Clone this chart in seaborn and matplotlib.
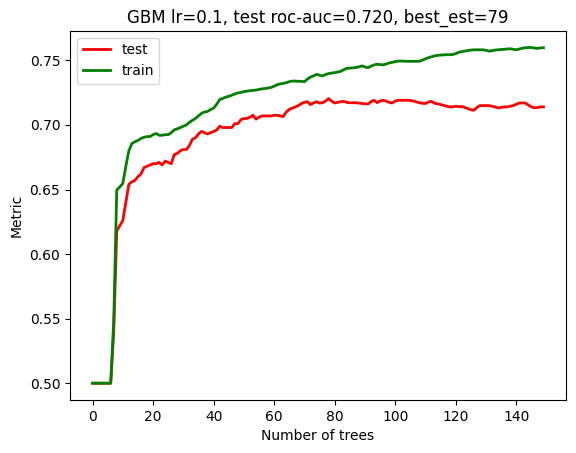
import numpy as np
import pandas as pd
import matplotlib
matplotlib.use("Agg")
import matplotlib.pyplot as plt
import seaborn as sns

title = "GBM lr=0.1, test roc-auc=0.720, best_est=79"
xlabel = "Number of trees"
ylabel = "Metric"

test_scores = [
    0.500, 0.500, 0.500, 0.500, 0.500, 0.500, 0.500, 0.540, 0.618, 0.622,
    0.626, 0.640, 0.654, 0.656, 0.657, 0.660, 0.662, 0.667, 0.668, 0.669,
    0.670, 0.670, 0.671, 0.669, 0.672, 0.671, 0.670, 0.677, 0.678, 0.680,
    0.681, 0.681, 0.684, 0.689, 0.690, 0.693, 0.695, 0.694, 0.693, 0.694,
    0.695, 0.696, 0.699, 0.698, 0.698, 0.698, 0.698, 0.701, 0.701, 0.704,
    0.705, 0.705, 0.706, 0.7075, 0.7045, 0.706, 0.707, 0.707, 0.707, 0.707,
    0.7075, 0.7075, 0.707, 0.7065, 0.710, 0.712, 0.713, 0.714, 0.715, 0.7165,
    0.7175, 0.718, 0.7158, 0.717, 0.718, 0.717, 0.7172, 0.7185, 0.7204, 0.7185,
    0.717, 0.7175, 0.718, 0.7183, 0.7175, 0.7172, 0.7172, 0.7172, 0.717, 0.7166,
    0.7164, 0.7162, 0.718, 0.7191, 0.7173, 0.7185, 0.7191, 0.7185, 0.7175, 0.717,
    0.7185, 0.7191, 0.7191, 0.7191, 0.7191, 0.719, 0.7185, 0.7178, 0.7172, 0.7168,
    0.7166, 0.7178, 0.7183, 0.7168, 0.7164, 0.7158, 0.7152, 0.7145, 0.714, 0.714,
    0.7145, 0.7142, 0.7143, 0.7135, 0.7127, 0.7118, 0.7114, 0.7135, 0.715, 0.715,
    0.715, 0.715, 0.7145, 0.714, 0.7132, 0.7135, 0.714, 0.714, 0.7145, 0.715,
    0.716, 0.717, 0.717, 0.717, 0.7155, 0.714, 0.7133, 0.7135, 0.714, 0.714,
]

train_scores = [
    0.500, 0.500, 0.500, 0.500, 0.500, 0.500, 0.500, 0.548, 0.6496, 0.652,
    0.6547, 0.668, 0.680, 0.6856, 0.687, 0.688, 0.6895, 0.6905, 0.691, 0.691,
    0.6925, 0.6934, 0.692, 0.692, 0.6925, 0.6925, 0.694, 0.6962, 0.697, 0.698,
    0.699, 0.700, 0.702, 0.7036, 0.705, 0.707, 0.709, 0.710, 0.7105, 0.712,
    0.713, 0.716, 0.7196, 0.7205, 0.7215, 0.7222, 0.723, 0.724, 0.7248, 0.7252,
    0.7258, 0.7262, 0.7265, 0.7268, 0.727, 0.7275, 0.728, 0.7282, 0.7286, 0.729,
    0.730, 0.7312, 0.7318, 0.7322, 0.7328, 0.7335, 0.734, 0.734, 0.7338, 0.7338,
    0.7335, 0.7355, 0.7371, 0.738, 0.7392, 0.7385, 0.738, 0.739, 0.7398, 0.7402,
    0.7405, 0.741, 0.7415, 0.7428, 0.7438, 0.744, 0.7442, 0.7445, 0.745, 0.7457,
    0.745, 0.7443, 0.7455, 0.7465, 0.747, 0.7468, 0.7465, 0.7472, 0.748, 0.7485,
    0.749, 0.7495, 0.7495, 0.7494, 0.7493, 0.7493, 0.7493, 0.7493, 0.7493, 0.7502,
    0.7512, 0.7521, 0.7528, 0.7535, 0.7539, 0.7541, 0.7543, 0.7544, 0.7544, 0.7546,
    0.7552, 0.7563, 0.7568, 0.7572, 0.7576, 0.758, 0.7582, 0.7582, 0.7582, 0.7582,
    0.7578, 0.7572, 0.7575, 0.758, 0.7582, 0.7584, 0.7586, 0.7588, 0.759, 0.7586,
    0.7582, 0.7588, 0.7594, 0.7598, 0.760, 0.760, 0.7596, 0.7593, 0.7597, 0.7598,
]

n_trees = list(range(len(test_scores)))

fig = plt.figure(figsize=(5.76, 4.53), dpi=100)
ax = fig.add_subplot(111)
fig.subplots_adjust(left=70 / 576, right=566 / 576, bottom=1 - 400 / 453, top=1 - 30.7 / 453)

sns.lineplot(x=n_trees, y=test_scores, ax=ax, color="red", linewidth=2, label="test")
sns.lineplot(x=n_trees, y=train_scores, ax=ax, color="green", linewidth=2, label="train")

ax.set_title(title)
ax.set_xlabel(xlabel)
ax.set_ylabel(ylabel)
ax.legend(loc="upper left")

fig.savefig("out.png", dpi=100)
